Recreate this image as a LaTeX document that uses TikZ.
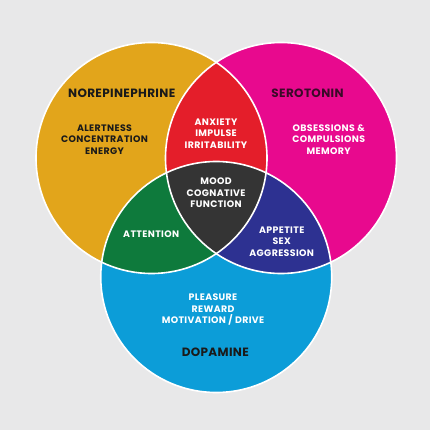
\documentclass[tikz,border=0pt]{standalone}
\usepackage{fontspec}
\setmainfont{Poppins}
\definecolor{bg}{HTML}{E8E8E9}
\definecolor{cnor}{HTML}{E2A51B}
\definecolor{cser}{HTML}{E8098E}
\definecolor{cdop}{HTML}{0C9DD8}
\definecolor{cred}{HTML}{E41E2A}
\definecolor{cgrn}{HTML}{0E7A3C}
\definecolor{cnav}{HTML}{2D3191}
\definecolor{cmid}{HTML}{343434}
\definecolor{tdark}{HTML}{1A1A1A}
\definecolor{tser}{HTML}{3A0A28}
\tikzset{
  title/.style={font=\fontsize{12}{14}\selectfont\bfseries\addfontfeatures{LetterSpace=3}, text=tdark, inner sep=0pt},
  body/.style={font=\fontsize{9.4}{11.4}\selectfont\bfseries\addfontfeatures{LetterSpace=4}, text=white, align=center, inner sep=0pt},
  ring/.style={draw=white, line width=1.6pt}
}
\begin{document}
\begin{tikzpicture}[x=1pt,y=-1pt]
\fill[bg] (0,0) rectangle (430,430);
\useasboundingbox (0,0) rectangle (430,430);
\coordinate (N) at (151.5,158);
\coordinate (S) at (281,158);
\coordinate (D) at (216.25,277);
\def\rr{115.5}
\fill[cnor] (N) circle (\rr);
\fill[cser] (S) circle (\rr);
\fill[cdop] (D) circle (\rr);
\begin{scope}
  \clip (S) circle (\rr);
  \fill[cnav] (D) circle (\rr);
\end{scope}
\begin{scope}
  \clip (N) circle (\rr);
  \fill[cred] (S) circle (\rr);
  \fill[cgrn] (D) circle (\rr);
  \clip (S) circle (\rr);
  \fill[cmid] (D) circle (\rr);
\end{scope}
\draw[ring] (N) circle (\rr);
\draw[ring] (S) circle (\rr);
\draw[ring] (D) circle (\rr);

\node[title] (tn) at (121.7,93) {NOREPINEPHRINE};
\node[title, text=tser] (ts) at (307.5,93) {SEROTONIN};
\node[title] (td) at (215.3,352.3) {DOPAMINE};
\node[body, text=tdark] (bn) at (104.5,139.5) {ALERTNESS\\CONCENTRATION\\ENERGY};
\node[body] (bs) at (328.7,139.5) {OBSESSIONS \&\\COMPULSIONS\\MEMORY};
\node[body] (bns) at (216,133.7) {ANXIETY\\IMPULSE\\IRRITABILITY};
\node[body] (bc) at (216,192.7) {MOOD\\COGNATIVE\\FUNCTION};
\node[body] (bnd) at (151.2,234.3) {ATTENTION};
\node[body] (bsd) at (281.7,241.7) {APPETITE\\SEX\\AGGRESSION};
\node[body] (bd) at (213,309.9) {PLEASURE\\REWARD\\MOTIVATION / DRIVE};
\end{tikzpicture}
\end{document}
